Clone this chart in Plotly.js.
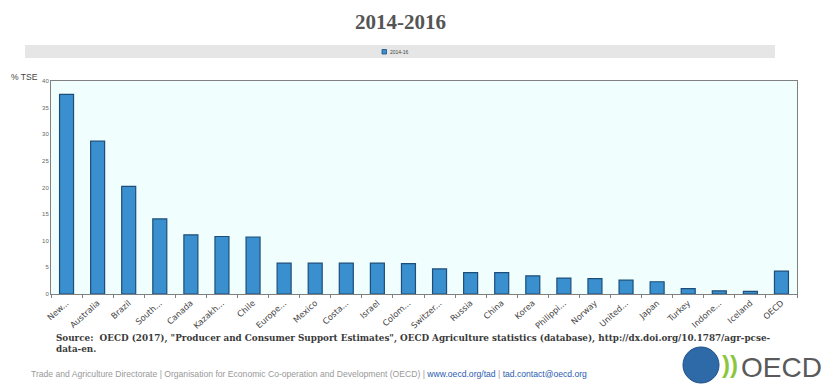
<!DOCTYPE html>
<html><head><meta charset="utf-8">
<script src="https://cdn.plot.ly/plotly-3.0.1.min.js"></script>
<style>html,body{margin:0;padding:0;background:#fff}#chart{width:826px;height:385px}</style>
</head><body><div id="chart"></div>
<script>
const categories = ["New...", "Australia", "Brazil", "South...", "Canada", "Kazakh...", "Chile", "Europe...", "Mexico", "Costa...", "Israel", "Colom...", "Switzer...", "Russia", "China", "Korea", "Philippi...", "Norway", "United...", "Japan", "Turkey", "Indone...", "Iceland", "OECD"];
const tse2014_16 = [37.5, 28.7, 20.2, 14.1, 11.1, 10.8, 10.7, 5.8, 5.8, 5.8, 5.8, 5.7, 4.7, 4.0, 4.0, 3.4, 3.0, 2.9, 2.6, 2.3, 1.0, 0.6, 0.5, 4.3];
const seriesName = '2014-16';
const yTicks = [0, 5, 10, 15, 20, 25, 30, 35, 40];

const barColor = '#3a8fcf', barLine = '#1d4e7a';
const trace = {
  type: 'bar', x: categories, y: tse2014_16, name: seriesName,
  marker: {color: barColor, line: {color: barLine, width: 1.2}},
  showlegend: false
};
// plot area: x 51..797, y 81..294  (746 x 213)
const px = v => (v - 51) / 746;
const py = v => (294 - v) / 213;
const layout = {
  width: 826, height: 385,
  margin: {l: 51, r: 29, t: 81, b: 91},
  paper_bgcolor: '#ffffff', plot_bgcolor: '#f0fefe',
  bargap: 0.55,
  font: {family: 'Liberation Sans, Arial, sans-serif', color: '#444'},
  title: {text: '<b>2014-2016</b>', x: 0.485, xanchor: 'center', y: 0.945, yanchor: 'middle',
          font: {family: 'Liberation Serif, Times New Roman, serif', size: 21, color: '#555'}},
  showlegend: false,
  xaxis: {type: 'category', tickangle: -42, tickfont: {family: 'DejaVu Sans, Verdana, sans-serif', size: 8.3, color: '#444'},
          showline: true, linecolor: '#808080', linewidth: 1, mirror: true,
          ticks: 'outside', tickson: 'boundaries', ticklen: 3, tickcolor: '#808080',
          showgrid: false, automargin: false},
  yaxis: {range: [0, 40], tickvals: yTicks, ticktext: yTicks.map(String),
          tickfont: {size: 6, color: '#666'}, showgrid: false, zeroline: false,
          showline: true, linecolor: '#808080', linewidth: 1, mirror: true,
          ticks: '', automargin: false},
  shapes: [
    {type: 'rect', xref: 'paper', yref: 'paper', x0: px(25), x1: px(775), y0: py(58), y1: py(45),
     fillcolor: '#e6e6e6', line: {width: 0}, layer: 'below'},
    {type: 'rect', xref: 'paper', yref: 'paper', x0: px(382), x1: px(386.5), y0: py(54), y1: py(49.5),
     fillcolor: barColor, line: {color: barLine, width: 0.8}},
    {type: 'circle', xref: 'paper', yref: 'paper', xsizemode: 'pixel', ysizemode: 'pixel',
     xanchor: px(701), yanchor: py(365), x0: -18, x1: 18, y0: -18, y1: 18,
     fillcolor: '#2f6aa8', line: {color: '#1c4f86', width: 1}}
  ],
  annotations: [
    {text: seriesName, xref: 'paper', yref: 'paper', x: px(388), y: py(51.8), xanchor: 'left', yanchor: 'middle',
     showarrow: false, font: {size: 5, color: '#444'}},
    {text: '% TSE', xref: 'paper', yref: 'paper', x: px(9), y: py(77), xanchor: 'left', yanchor: 'middle',
     showarrow: false, font: {size: 8.5, color: '#444'}},
    {text: '<b>Source:  OECD (2017), "Producer and Consumer Support Estimates", OECD Agriculture statistics (database), http://dx.doi.org/10.1787/agr-pcse-</b>',
     xref: 'paper', yref: 'paper', x: px(54), y: py(338), xanchor: 'left', yanchor: 'middle', showarrow: false,
     font: {family: 'DejaVu Serif, serif', size: 8.8, color: '#3a3a3a'}},
    {text: '<b>data-en.</b>', xref: 'paper', yref: 'paper', x: px(54), y: py(349), xanchor: 'left', yanchor: 'middle', showarrow: false,
     font: {family: 'DejaVu Serif, serif', size: 8.8, color: '#3a3a3a'}},
    {text: 'Trade and Agriculture Directorate | Organisation for Economic Co-operation and Development (OECD) | <span style="color:#2a5db0">www.oecd.org/tad</span> | <span style="color:#2a5db0">tad.contact@oecd.org</span>',
     xref: 'paper', yref: 'paper', x: px(29), y: py(374), xanchor: 'left', yanchor: 'middle', showarrow: false,
     font: {size: 8.6, color: '#999'}},
    {text: '<b>))</b>', xref: 'paper', yref: 'paper', x: px(720), y: py(364),
     xanchor: 'left', yanchor: 'middle', showarrow: false,
     font: {size: 24, color: '#8cc63f'}},
    {text: 'OECD', xref: 'paper', yref: 'paper', x: px(824), y: py(367),
     xanchor: 'right', yanchor: 'middle', showarrow: false,
     font: {size: 28, color: '#5a5a5a'}}
  ]
};
Plotly.newPlot('chart', [trace], layout, {displayModeBar: false, staticPlot: true});
</script></body></html>
